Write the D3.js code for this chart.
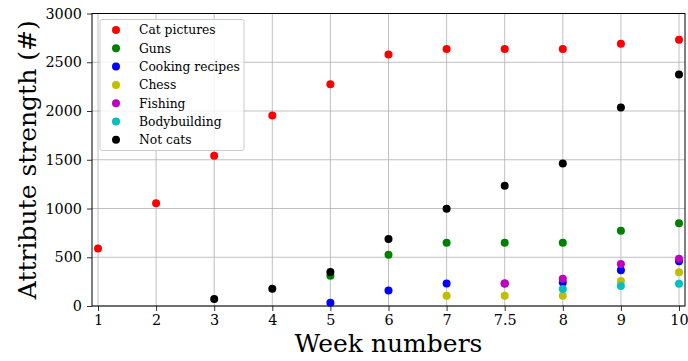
<!DOCTYPE html>
<html>
<head>
<meta charset="utf-8">
<script src="https://cdn.jsdelivr.net/npm/d3@7"></script>
<style>
  body { margin: 0; background: #fff; }
  text { font-family: "DejaVu Serif", serif; }
</style>
</head>
<body>
<script>
// week labels (categorical, evenly spaced)
const weeks = ["1", "2", "3", "4", "5", "6", "7", "7.5", "8", "9", "10"];
const yTicks = [0, 500, 1000, 1500, 2000, 2500, 3000];

// values per week, null = no point
const catPictures = [590, 1055, 1540, 1955, 2275, 2580, 2635, 2635, 2635, 2690, 2730];
const guns        = [null, null, null, null, 310, 525, 650, 650, 650, 772, 848];
const cooking     = [null, null, null, null, 34, 160, 232, 232, 240, 366, 458];
const chess       = [null, null, null, null, null, null, 106, 106, 106, 256, 345];
const fishing     = [null, null, null, null, null, null, null, 232, 280, 430, 485];
const bodybuild   = [null, null, null, null, null, null, null, null, 174, 205, 229];
const notCats     = [null, null, 72, 178, 348, 687, 997, 1233, 1462, 2036, 2374];

const seriesNames = ["Cat pictures", "Guns", "Cooking recipes", "Chess", "Fishing", "Bodybuilding", "Not cats"];
const seriesColors = ["#ff0000", "#008000", "#0000ff", "#bfbf00", "#bf00bf", "#00bfbf", "#000000"];
const seriesValues = [catPictures, guns, cooking, chess, fishing, bodybuild, notCats];

const width = 688, height = 361;
const plotLeft = 92, plotRight = 685, plotTop = 13.5, plotBottom = 306;

const svg = d3.select("body").append("svg")
    .attr("width", width)
    .attr("height", height);

const xScale = d3.scalePoint()
    .domain(weeks)
    .range([plotLeft + 6, plotRight - 6]);

const yScale = d3.scaleLinear()
    .domain([0, 3000])
    .range([plotBottom, plotTop]);

// grid
svg.append("g").selectAll("line")
    .data(weeks)
    .enter().append("line")
    .attr("x1", d => xScale(d)).attr("x2", d => xScale(d))
    .attr("y1", plotTop).attr("y2", plotBottom)
    .attr("stroke", "#b0b0b0").attr("stroke-width", 0.8);

svg.append("g").selectAll("line")
    .data(yTicks)
    .enter().append("line")
    .attr("x1", plotLeft).attr("x2", plotRight)
    .attr("y1", d => yScale(d)).attr("y2", d => yScale(d))
    .attr("stroke", "#b0b0b0").attr("stroke-width", 0.8);

// axes
const xAxis = svg.append("g")
    .attr("transform", `translate(0, ${plotBottom})`)
    .call(d3.axisBottom(xScale).tickSize(5).tickPadding(3.5));
const yAxis = svg.append("g")
    .attr("transform", `translate(${plotLeft}, 0)`)
    .call(d3.axisLeft(yScale).tickValues(yTicks).tickFormat(d3.format("d")).tickSize(5).tickPadding(5));

[xAxis, yAxis].forEach(a => {
    a.attr("font-family", "DejaVu Serif").attr("font-size", 14.4);
    a.select(".domain").remove();
    a.selectAll("text").attr("fill", "#000");
    a.selectAll("line").attr("stroke", "#000").attr("stroke-width", 0.8);
});

// frame
svg.append("rect")
    .attr("x", plotLeft).attr("y", plotTop)
    .attr("width", plotRight - plotLeft).attr("height", plotBottom - plotTop)
    .attr("fill", "none").attr("stroke", "#000").attr("stroke-width", 1);

// points
seriesValues.forEach((vals, i) => {
    svg.append("g").selectAll("circle")
        .data(vals.map((v, j) => ({ week: weeks[j], v: v })).filter(d => d.v !== null))
        .enter().append("circle")
        .attr("cx", d => xScale(d.week))
        .attr("cy", d => yScale(d.v))
        .attr("r", 4)
        .attr("fill", seriesColors[i]);
});

// axis labels
svg.append("text")
    .attr("x", (plotLeft + plotRight) / 2)
    .attr("y", 352)
    .attr("text-anchor", "middle")
    .style("font-size", "25px")
    .text("Week numbers");

svg.append("text")
    .attr("transform", `translate(36, ${(plotTop + plotBottom) / 2}) rotate(-90)`)
    .attr("text-anchor", "middle")
    .style("font-size", "25px")
    .text("Attribute strength (#)");

// legend
const legend = svg.append("g");
legend.append("rect")
    .attr("x", 100).attr("y", 19.5)
    .attr("width", 144).attr("height", 131)
    .attr("rx", 2)
    .attr("fill", "#fff").attr("fill-opacity", 0.8)
    .attr("stroke", "#cccccc").attr("stroke-width", 1);

seriesNames.forEach((name, i) => {
    const yy = 30 + i * 18.3;
    legend.append("circle")
        .attr("cx", 116).attr("cy", yy).attr("r", 4)
        .attr("fill", seriesColors[i]);
    legend.append("text")
        .attr("x", 139).attr("y", yy + 4.4)
        .attr("font-family", "DejaVu Serif")
        .style("font-size", "12.3px")
        .text(name);
});
</script>
</body>
</html>
